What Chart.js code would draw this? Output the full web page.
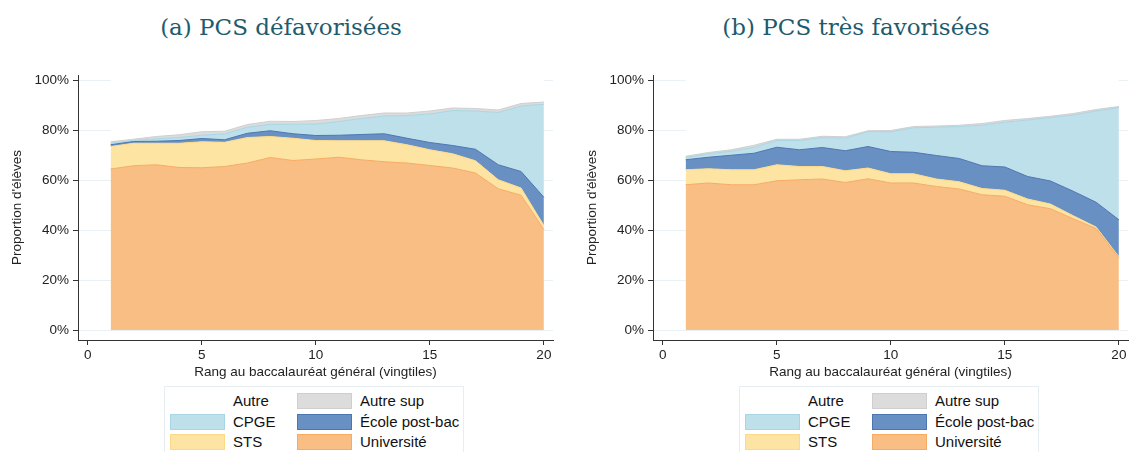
<!DOCTYPE html>
<html>
<head>
<meta charset="utf-8">
<script src="https://cdn.jsdelivr.net/npm/chart.js@4.4.1/dist/chart.umd.min.js"></script>
<style>
  html, body { margin:0; padding:0; background:#fff; }
  body { width:1129px; height:452px; overflow:hidden; position:relative; font-family:"Liberation Sans", Arial, sans-serif; }
  .panel { position:absolute; top:0; width:575px; height:452px; }
  .panel canvas { position:absolute; left:0; top:0; }
  .ttl { position:absolute; left:0; top:14px; width:562px; text-align:center; font-family:"DejaVu Serif", "Liberation Serif", serif; font-size:23px; color:#1d5b6d; }
  .leg { position:absolute; left:164px; top:386px; width:300px; height:72px; border:1px solid #e6eef1; box-sizing:border-box; }
  .leg .it { position:absolute; height:20px; font-size:15px; color:#111; line-height:20px; }
  .leg .sw { position:absolute; left:0; top:2px; width:55px; height:16px; box-sizing:border-box; border:1px solid; }
  .leg .lb { position:absolute; left:63px; top:0; white-space:nowrap; }
</style>
</head>
<body>
<div class="panel" id="pA" style="left:0">
  <div class="ttl">(a) PCS défavorisées</div>
  <canvas id="chartA" width="575" height="385"></canvas>
  <div class="leg" id="legA"></div>
</div>
<div class="panel" id="pB" style="left:575px">
  <div class="ttl">(b) PCS très favorisées</div>
  <canvas id="chartB" width="575" height="385"></canvas>
  <div class="leg" id="legB"></div>
</div>
<script>
// vingtiles du rang au bac
const ranks = [1,2,3,4,5,6,7,8,9,10,11,12,13,14,15,16,17,18,19,20];
const xTicks = [0,5,10,15,20];
const yTicks = [0,20,40,60,80,100];

// stacking order, bottom to top
const seriesNames = ['Université','STS','École post-bac','CPGE','Autre sup','Autre'];
const fillColors   = ['#f9be84','#fde4a3','#6890c2','#bde0ea','#dcdcdc','#ffffff'];
const borderColors = ['#f7ab62','#fbd98a','#4c76b2','#a9d5e4','#cfcfcf','#ffffff'];

// (a) PCS défavorisées, in %
const univA     = [64.4,65.7,66.1,65.0,64.9,65.4,66.8,69.0,67.8,68.4,69.1,68.1,67.3,66.8,65.8,64.8,62.8,56.5,53.9,40.2];
const stsA      = [9.0,9.0,8.6,9.7,10.4,9.7,10.2,8.4,8.9,7.4,6.6,7.6,8.4,7.3,6.3,5.7,4.9,3.6,2.9,1.6];
const ecoleA    = [0.7,0.7,0.8,1.1,1.3,1.0,1.7,2.3,1.8,2.0,2.2,2.5,2.8,2.6,2.9,3.3,4.6,6.0,6.6,11.3];
const cpgeA     = [0.6,0.4,1.0,1.2,1.3,2.4,2.4,2.6,3.8,4.6,5.5,6.4,7.1,9.1,11.4,14.0,15.3,20.9,26.2,37.2];
const autreSupA = [0.6,0.5,0.9,1.1,1.4,1.0,1.1,1.2,1.1,1.4,1.2,1.2,1.2,1.0,1.2,1.0,1.0,1.0,1.0,0.9];
const autreA    = [24.7,23.7,22.6,21.9,20.7,20.5,17.8,16.5,16.6,16.2,15.4,14.2,13.2,13.2,12.4,11.2,11.4,12.0,9.4,8.8];

// (b) PCS très favorisées, in %
const univB     = [58.1,58.8,58.1,58.1,59.7,60.1,60.4,59.0,60.5,58.8,58.8,57.4,56.4,54.1,53.5,50.1,48.5,44.5,40.6,28.9];
const stsB      = [6.0,5.7,6.0,6.0,6.4,5.3,5.0,4.7,4.3,3.7,3.7,3.0,2.9,2.5,2.4,2.3,1.9,1.2,0.6,0.4];
const ecoleB    = [4.0,4.6,5.8,6.6,7.0,6.7,7.6,8.0,8.6,8.9,8.6,9.4,9.3,9.1,9.3,9.0,9.2,9.8,9.9,14.8];
const cpgeB     = [0.9,1.4,1.6,2.4,2.7,3.7,4.0,5.0,6.0,7.9,9.8,11.3,12.8,16.2,17.9,22.6,25.4,30.5,36.5,44.9];
const autreSupB = [0.5,0.5,0.6,0.8,0.5,0.5,0.5,0.6,0.3,0.5,0.5,0.5,0.5,0.7,0.7,0.6,0.5,0.6,0.6,0.4];
const autreB    = [30.5,29.0,27.9,26.1,23.7,23.7,22.5,22.7,20.3,20.2,18.6,18.4,18.1,17.4,16.2,15.4,14.5,13.4,11.8,10.6];

const sans = '"Liberation Sans", Arial, sans-serif';

function makeChart(canvas, series){
  const datasets = seriesNames.map((name, i) => ({
    label: name,
    data: ranks.map((r, j) => ({ x: r, y: series[i][j] })),
    backgroundColor: fillColors[i],
    borderColor: borderColors[i],
    borderWidth: i === 5 ? 0 : 1,
    fill: i === 0 ? 'origin' : '-1',
    pointRadius: 0,
    tension: 0
  }));
  return new Chart(canvas, {
    type: 'line',
    data: { datasets },
    options: {
      responsive: false,
      animation: false,
      layout: { padding: { left: 0, top: 75, right: 22, bottom: 0 } },
      plugins: { legend: { display: false }, tooltip: { enabled: false } },
      scales: {
        x: {
          type: 'linear', min: -0.43, max: 20.4,
          afterBuildTicks: s => { s.ticks = xTicks.map(v => ({ value: v })); },
          afterFit: s => { s.height = 45; },
          grid: { drawOnChartArea: false, tickLength: 5, tickColor: '#333' },
          border: { color: '#333', width: 1 },
          ticks: { color: '#222', font: { family: sans, size: 13.5 }, padding: 2, maxRotation: 0, autoSkip: false },
          title: { display: true, text: 'Rang au baccalauréat général (vingtiles)', color: '#222',
                   font: { family: sans, size: 13.5 }, padding: { top: 0, bottom: 5 } }
        },
        y: {
          stacked: true, min: -4, max: 102,
          afterBuildTicks: s => { s.ticks = yTicks.map(v => ({ value: v })); },
          afterFit: s => { s.width = 78; },
          grid: { color: '#e9f1f4', lineWidth: 1, tickLength: 5, tickColor: '#333' },
          border: { color: '#333', width: 1 },
          ticks: { color: '#222', font: { family: sans, size: 13.5 }, padding: 4, callback: v => v + '%' },
          title: { display: true, text: "Proportion d'élèves", color: '#222',
                   font: { family: sans, size: 13.5 }, padding: { top: 9, bottom: 0 } }
        }
      }
    }
  });
}

function buildLegend(el){
  // legend reads top-down: Autre, Autre sup / CPGE, École post-bac / STS, Université
  const order = seriesNames.map((n, i) => i).reverse();
  order.forEach((idx, k) => {
    const col = k % 2, row = Math.floor(k / 2);
    const it = document.createElement('div');
    it.className = 'it';
    it.style.left = (col ? 132 : 5) + 'px';
    it.style.top = (4 + row * 20.5) + 'px';
    const sw = document.createElement('div');
    sw.className = 'sw';
    sw.style.background = fillColors[idx];
    sw.style.borderColor = borderColors[idx];
    const lb = document.createElement('div');
    lb.className = 'lb';
    lb.textContent = seriesNames[idx];
    it.appendChild(sw); it.appendChild(lb);
    el.appendChild(it);
  });
}

makeChart(document.getElementById('chartA'), [univA, stsA, ecoleA, cpgeA, autreSupA, autreA]);
makeChart(document.getElementById('chartB'), [univB, stsB, ecoleB, cpgeB, autreSupB, autreB]);
buildLegend(document.getElementById('legA'));
buildLegend(document.getElementById('legB'));
</script>
</body>
</html>
